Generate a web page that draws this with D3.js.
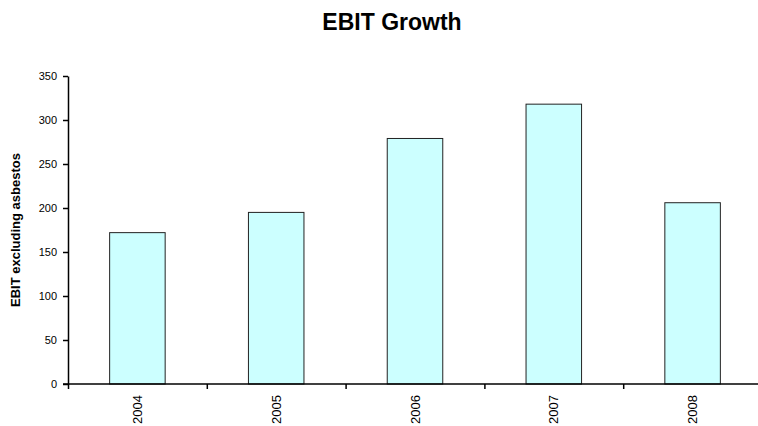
<!DOCTYPE html>
<html>
<head>
<meta charset="utf-8">
<script src="https://cdn.jsdelivr.net/npm/d3@7"></script>
<style>
  body { margin: 0; background: #fff; }
  svg { display: block; font-family: Arial, "Liberation Sans", sans-serif; }
</style>
</head>
<body>
<svg width="758" height="426"></svg>
<script>
// chart data
var years = ["2004", "2005", "2006", "2007", "2008"];
var ebit = [172, 195, 279, 318, 206];
var yTicks = [0, 50, 100, 150, 200, 250, 300, 350];

function main() {
    var svg = d3.select("svg");

    var plotLeft = 68, plotRight = 762, plotTop = 76, plotBottom = 384;

    var x = d3.scaleBand().domain(years).range([plotLeft, plotRight]).padding(0);
    var xEdge = d3.scaleLinear().domain([0, years.length]).range([plotLeft, plotRight]);
    var y = d3.scaleLinear().domain([0, 350]).range([plotBottom, plotTop]);

    var barW = x.bandwidth() * 0.4;

    // title
    svg.append("text")
       .attr("x", 392)
       .attr("y", 30)
       .attr("text-anchor", "middle")
       .attr("font-size", "23px")
       .attr("font-weight", "bold")
       .text("EBIT Growth");

    // y axis title
    svg.append("text")
       .attr("transform", "translate(20," + (plotTop + plotBottom) / 2 + ") rotate(-90)")
       .attr("text-anchor", "middle")
       .attr("font-size", "13px")
       .attr("font-weight", "bold")
       .text("EBIT excluding asbestos");

    // bars
    svg.selectAll(".bar")
       .data(years)
       .enter().append("rect")
       .attr("class", "bar")
       .attr("x", function(d) { return x(d) + (x.bandwidth() - barW) / 2; })
       .attr("y", function(d, i) { return y(ebit[i]); })
       .attr("width", barW)
       .attr("height", function(d, i) { return y(0) - y(ebit[i]); })
       .attr("fill", "#ccffff")
       .attr("stroke", "#222")
       .attr("stroke-width", 1);

    // y axis
    var gy = svg.append("g")
       .attr("transform", "translate(" + plotLeft + ",0)")
       .call(d3.axisLeft(y).tickValues(yTicks).tickSize(5).tickSizeOuter(0).tickPadding(6));
    gy.selectAll("text").attr("font-size", "11px").attr("fill", "#000").attr("font-family", "Arial, 'Liberation Sans', sans-serif");
    gy.selectAll("line, path").attr("stroke", "#000").attr("stroke-width", 1.5);

    // x axis ticks at category edges
    var gx = svg.append("g")
       .attr("transform", "translate(0," + plotBottom + ")")
       .call(d3.axisBottom(xEdge).tickValues(d3.range(years.length)).tickSize(5).tickSizeOuter(0).tickFormat(""));
    gx.select(".domain").remove();
    gx.selectAll("line").attr("stroke", "#000").attr("stroke-width", 1.5);

    // x axis line (runs a little left of the y axis)
    svg.append("line")
       .attr("x1", plotLeft - 5)
       .attr("x2", plotRight)
       .attr("y1", plotBottom)
       .attr("y2", plotBottom)
       .attr("stroke", "#000")
       .attr("stroke-width", 1.5);

    // x labels, rotated
    var gl = svg.append("g")
       .attr("transform", "translate(0," + plotBottom + ")")
       .call(d3.axisBottom(x).tickSize(0).tickPadding(0));
    gl.select(".domain").remove();
    gl.selectAll("text")
       .attr("font-size", "13px")
       .attr("fill", "#000")
       .attr("font-family", "Arial, 'Liberation Sans', sans-serif")
       .style("text-anchor", "end")
       .attr("x", -11)
       .attr("y", 0)
       .attr("dy", "0.35em")
       .attr("transform", "rotate(-90)");
}

main();
</script>
</body>
</html>
